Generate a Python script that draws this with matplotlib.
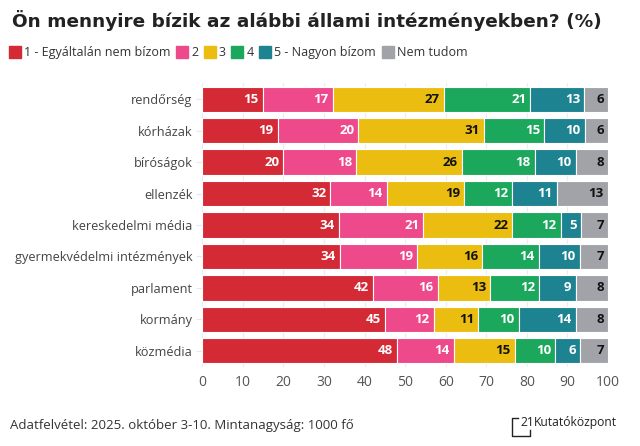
import matplotlib.pyplot as plt
from matplotlib.lines import Line2D
import numpy as np

plt.rcParams['font.family'] = ['Open Sans', 'DejaVu Sans']

# adatok (a kép alapján becsült százalékok, a címkék kerekítve)
intezmenyek = ['rendőrség', 'kórházak', 'bíróságok', 'ellenzék', 'kereskedelmi média',
               'gyermekvédelmi intézmények', 'parlament', 'kormány', 'közmédia']
v1 = [14.9, 18.6, 20, 31.6, 33.6, 34, 42, 45, 48]
v2 = [17.3, 19.9, 18, 13.9, 20.9, 19, 16, 12, 14]
v3 = [27.4, 31.0, 26, 19.0, 21.9, 16, 13, 11, 15]
v4 = [21.3, 14.8, 18, 11.9, 11.9, 14, 12, 10, 10]
v5 = [13.2, 10.0, 10, 11.0, 5.0, 10, 9, 14, 6]
v_nt = [5.9, 5.7, 8, 12.6, 6.7, 7, 8, 8, 7]

kategoriak = ['1 - Egyáltalán nem bízom', '2', '3', '4', '5 - Nagyon bízom', 'Nem tudom']
szinek = ['#d32a36', '#ee4a8b', '#ebbd10', '#1ca85c', '#1e8391', '#a1a3a8']
szoveg_szin = ['white', 'white', '#111111', 'white', 'white', '#111111']
xticks = [0, 10, 20, 30, 40, 50, 60, 70, 80, 90, 100]

sorozatok = [v1, v2, v3, v4, v5, v_nt]

fig = plt.figure(figsize=(6.4, 4.46), dpi=100)
ax = fig.add_axes([0.316, 0.178, 0.634, 0.635])

y = np.arange(len(intezmenyek))
bal = np.zeros(len(intezmenyek))
for vals, szin, tszin in zip(sorozatok, szinek, szoveg_szin):
    vals = np.array(vals, dtype=float)
    ax.barh(y, vals, left=bal, height=0.8, color=szin, edgecolor='white', linewidth=0.8, zorder=3)
    for yi, b, v in zip(y, bal, vals):
        ax.text(b + v - 1.0, yi, f'{round(v)}', ha='right', va='center', fontsize=9.5,
                fontweight='bold', color=tszin, zorder=4)
    bal += vals

ax.set_ylim(len(intezmenyek) - 0.5, -0.5)
ax.set_xlim(0, 100)
ax.set_yticks(y)
ax.set_yticklabels(intezmenyek, fontsize=9.2, color='#444444')
ax.set_xticks(xticks)
ax.set_xticklabels([str(t) for t in xticks], fontsize=10, color='#555555')
ax.tick_params(axis='x', length=0, pad=6)
ax.tick_params(axis='y', length=4, color='#e8e8e8', pad=3)
ax.grid(axis='x', color='#ececec', linewidth=0.8, zorder=0)
for s in ax.spines.values():
    s.set_visible(False)

# cím
fig.text(0.019, 0.953, 'Ön mennyire bízik az alábbi állami intézményekben? (%)',
         fontsize=13.3, fontweight='bold', color='#222222', va='center',
         family=['DejaVu Sans'])

# jelmagyarázat
kezelok = [Line2D([0], [0], marker='s', color='none', markerfacecolor=c, markeredgecolor=c,
                  markersize=8.5) for c in szinek]
fig.legend(kezelok, kategoriak, loc='center left', bbox_to_anchor=(0.016, 0.882), ncol=6,
           frameon=False, fontsize=9, handlelength=0.75, handletextpad=0.35,
           columnspacing=0.55, labelcolor='#333333', borderaxespad=0, borderpad=0)

# lábléc
fig.text(0.016, 0.045, 'Adatfelvétel: 2025. október 3-10. Mintanagyság: 1000 fő',
         fontsize=9.5, color='#333333', va='center')

# logó
fig.add_artist(Line2D([0.809, 0.800, 0.800, 0.828, 0.828], [0.063, 0.063, 0.022, 0.022, 0.036],
                      transform=fig.transFigure, color='#222222', lw=1))
fig.text(0.8135, 0.052, '21', fontsize=8.7, color='#222222', va='center')
fig.text(0.834, 0.052, 'Kutatóközpont', fontsize=8.7, color='#222222', va='center')

fig.savefig('out.png', dpi=100)
